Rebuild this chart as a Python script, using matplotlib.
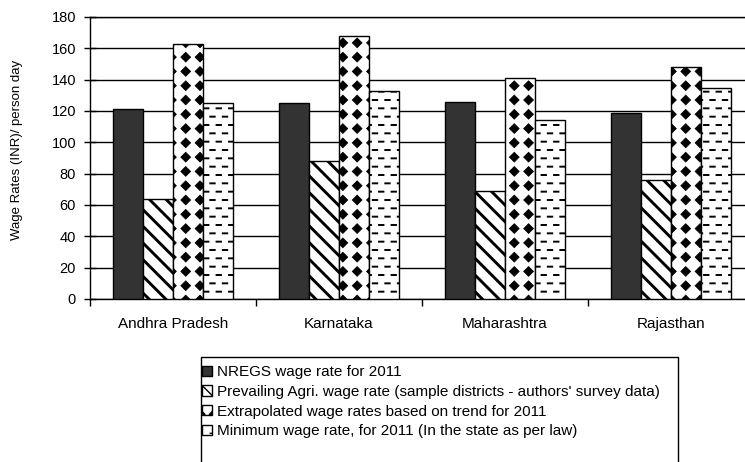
import matplotlib
matplotlib.use("Agg")
import matplotlib.pyplot as plt
from matplotlib import hatch as mhatch
from matplotlib.path import Path
from matplotlib.patches import Rectangle

plt.rcParams["font.family"] = ["Liberation Sans", "DejaVu Sans"]

states = ["Andhra Pradesh", "Karnataka", "Maharashtra", "Rajasthan"]
nregs_2011 = [121, 125, 126, 119]
prevailing_agri = [64, 88, 69, 76]
extrapolated_2011 = [163, 168, 141, 148]
minimum_wage_2011 = [125, 133, 114, 135]

series_labels = [
    "NREGS wage rate for 2011",
    "Prevailing Agri. wage rate (sample districts - authors' survey data)",
    "Extrapolated wage rates based on trend for 2011",
    "Minimum wage rate, for 2011 (In the state as per law)",
]
y_ticks = [0, 20, 40, 60, 80, 100, 120, 140, 160, 180]


class DiamondHatch(mhatch.HatchPatternBase):
    """Square grid of filled diamonds, hatch character 'd'."""

    def __init__(self, hatch, density):
        self.n = hatch.count("d") * 7
        self.num_vertices = 5 * (self.n + 1) ** 2 if self.n else 0

    def set_vertices_and_codes(self, vertices, codes):
        step = 1.0 / self.n
        r = 0.34 * step
        k = 0
        for i in range(self.n + 1):
            for j in range(self.n + 1):
                cx, cy = i * step, j * step
                vertices[k:k + 5] = [(cx, cy - r), (cx + r, cy), (cx, cy + r),
                                     (cx - r, cy), (cx, cy - r)]
                codes[k:k + 5] = [Path.MOVETO, Path.LINETO, Path.LINETO,
                                  Path.LINETO, Path.CLOSEPOLY]
                k += 5


class DashHatch(mhatch.HatchPatternBase):
    """Staggered short horizontal dashes, hatch character 'q'."""
    rows = 12
    cols = 8

    def __init__(self, hatch, density):
        self.on = hatch.count("q") > 0
        self.num_vertices = 2 * (self.rows + 1) * (self.cols + 1) if self.on else 0

    def set_vertices_and_codes(self, vertices, codes):
        half = 0.022
        k = 0
        for r in range(self.rows + 1):
            y = r / self.rows
            shift = 0.5 / self.cols if r % 2 else 0.0
            for c in range(self.cols + 1):
                x = c / self.cols + shift
                vertices[k:k + 2] = [(x - half, y), (x + half, y)]
                codes[k:k + 2] = [Path.MOVETO, Path.LINETO]
                k += 2


mhatch._hatch_types.extend([DiamondHatch, DashHatch])

W, H = 745, 462
fig = plt.figure(figsize=(W / 100, H / 100), dpi=100)
ax = fig.add_axes([90 / W, 1 - 299 / H, 664 / W, 282 / H])

series = [nregs_2011, prevailing_agri, extrapolated_2011, minimum_wage_2011]
faces = ["#333333", "white", "white", "white"]
hatches = [None, "\\\\", "d", "q"]
hatch_lw = [1.0, 2.1, 0.6, 1.4]
width = 0.18
x = list(range(len(states)))

handles = []
for k, (vals, fc, h, hlw) in enumerate(zip(series, faces, hatches, hatch_lw)):
    pos = [xi + (k - 1.5) * width for xi in x]
    with plt.rc_context({"hatch.linewidth": hlw, "hatch.color": "black"}):
        bars = ax.bar(pos, vals, width, color=fc, edgecolor="black",
                      linewidth=1.0, hatch=h, zorder=3)
    for p in bars:
        if hasattr(p, "set_hatch_linewidth"):
            p.set_hatch_linewidth(hlw)
    handles.append(bars)

ax.set_xlim(-0.5, len(states) - 0.5)
ax.set_ylim(0, 180)
ax.set_yticks(y_ticks)
ax.yaxis.grid(True, color="black", linewidth=1.0, zorder=0)
ax.set_axisbelow(True)
for side in ["left", "bottom", "top", "right"]:
    ax.spines[side].set_color("black")
    ax.spines[side].set_linewidth(1.0)

ax.tick_params(axis="y", direction="inout", length=8, width=1.0,
               labelsize=10.5, pad=6)
ax.set_xticks(x)
ax.set_xticklabels(states)
ax.tick_params(axis="x", which="major", length=0, labelsize=11, pad=13)
ax.set_xticks([i - 0.5 for i in range(len(states) + 1)], minor=True)
ax.tick_params(axis="x", which="minor", direction="out", length=5, width=1.0)

fig.text(17 / W, 1 - 150 / H, "Wage Rates (INR)/ person day", rotation=90,
         ha="center", va="center", fontsize=9.5)

fig.add_artist(Rectangle((201 / W, 1 - 475 / H), (678 - 201) / W, (475 - 357) / H,
                         transform=fig.transFigure, fill=False,
                         edgecolor="black", linewidth=1.0))
fig.legend(handles, series_labels, loc="upper left",
           bbox_to_anchor=(202 / W, 1 - 365 / H), frameon=False, fontsize=11,
           handlelength=0.65, handleheight=0.65, handletextpad=0.3,
           labelspacing=0.38, borderpad=0, borderaxespad=0)

fig.savefig("out.png", dpi=100)
